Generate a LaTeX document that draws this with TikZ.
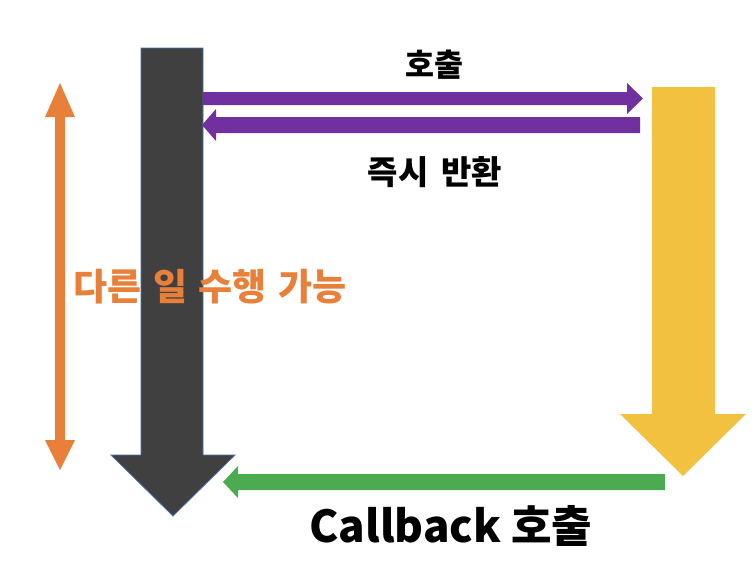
\documentclass[tikz,border=0pt]{standalone}
\usepackage{fontspec}
\setmainfont{Noto Sans CJK KR}
\definecolor{darkarrow}{HTML}{404040}
\definecolor{darkedge}{HTML}{4A6FB5}
\definecolor{purplearrow}{HTML}{7030A0}
\definecolor{goldarrow}{HTML}{F2C13F}
\definecolor{greenarrow}{HTML}{4CAA50}
\definecolor{orangearrow}{HTML}{E8803A}
\tikzset{
  blockarrow/.style={line join=miter},
  labeltext/.style={font=\bfseries, inner sep=0pt, anchor=center}
}
\begin{document}
\begin{tikzpicture}[x=1pt,y=-1pt]
\useasboundingbox (0,0) rectangle (756,584);
% dark vertical arrow
\draw[blockarrow, fill=darkarrow, draw=darkedge, line width=0.8pt]
  (141,48) -- (203,48) -- (203,455) -- (235,455) -- (173,516) -- (111,455) -- (141,455) -- cycle;
% gold vertical arrow
\fill[blockarrow, goldarrow]
  (652,87) -- (715,87) -- (715,414) -- (746,414) -- (683,476) -- (620,414) -- (652,414) -- cycle;
% purple call arrow (right)
\fill[blockarrow, purplearrow]
  (203,92) -- (627,92) -- (627,83) -- (643,98.5) -- (627,114) -- (627,105) -- (203,105) -- cycle;
% purple return arrow (left)
\fill[blockarrow, purplearrow]
  (640,117) -- (640,133) -- (216,133) -- (216,141) -- (202,125) -- (216,109) -- (216,117) -- cycle;
% green callback arrow (left)
\fill[blockarrow, greenarrow]
  (665,474) -- (665,490) -- (238,490) -- (238,498) -- (223,482) -- (238,466) -- (238,474) -- cycle;
% orange double arrow
\fill[blockarrow, orangearrow]
  (60,83) -- (75,117) -- (65,117) -- (65,440) -- (75,440) -- (60,470) -- (45,440) -- (55,440) -- (55,117) -- (45,117) -- cycle;
% labels
\node[labeltext, font=\fontsize{31.5}{34}\selectfont\bfseries] (call) at (434,65) {호출};
\node[labeltext, font=\fontsize{33}{36}\selectfont\bfseries] (ret) at (435,172) {즉시\hspace{0.4em}반환};
\node[labeltext, text=orangearrow, font=\fontsize{37}{40}\selectfont\bfseries] (other) at (210,287) {다른\hspace{0.32em}일\hspace{0.32em}수행\hspace{0.32em}가능};
\node[labeltext, font=\fontsize{44}{50}\selectfont\bfseries] (cb) at (451,526) {Callback 호출};
\end{tikzpicture}
\end{document}
